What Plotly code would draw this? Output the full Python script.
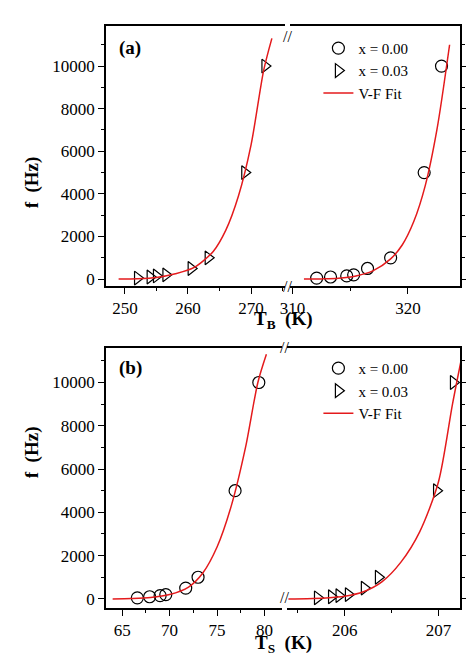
import plotly.graph_objects as go

f_vals = [50, 100, 150, 200, 500, 1000, 5000, 10000]
# Panel (a): T_B
a_T_x003 = [252.0, 254.0, 255.0, 256.5, 260.5, 263.2, 269.0, 272.2]
a_T_x000 = [312.1, 313.3, 314.7, 315.3, 316.5, 318.5, 321.4, 322.9]
a_fit_x003_T = [249, 252, 255, 258, 261, 264, 266, 268, 270, 272, 273.3]
a_fit_x003_f = [0, 20, 80, 250, 550, 1300, 2300, 3900, 6300, 9800, 11300]
a_fit_x000_T = [311, 312.5, 314, 315.5, 317, 318.5, 319.5, 320.5, 321.5, 322.5, 323.6]
a_fit_x000_f = [0, 10, 40, 150, 400, 950, 1600, 2700, 4400, 7000, 11000]
# Panel (b): T_S
b_T_x000 = [66.6, 67.9, 69.0, 69.6, 71.7, 73.0, 76.9, 79.4]
b_T_x003 = [205.71, 205.86, 205.94, 206.04, 206.21, 206.36, 206.98, 207.16]
b_fit_x000_T = [64, 66, 68, 70, 72, 73.5, 75, 76.5, 78, 79.3, 80.2]
b_fit_x000_f = [0, 15, 60, 200, 550, 1200, 2400, 4300, 7000, 10000, 11300]
b_fit_x003_T = [205.4, 205.6, 205.8, 206.0, 206.2, 206.4, 206.6, 206.8, 207.0, 207.15, 207.25]
b_fit_x003_f = [0, 10, 40, 120, 330, 800, 1700, 3100, 5400, 9000, 11200]

FONT = "Liberation Serif"
red = "#e41a1c"
fig = go.Figure()

def mk(x, y, sym, name, xa, ya, leg, show):
    fig.add_trace(go.Scatter(x=x, y=y, mode="markers", name=name, xaxis=xa, yaxis=ya,
        legend=leg, showlegend=show,
        marker=dict(symbol=sym, size=12, color="black", line=dict(width=1.2, color="black"))))

def fit(x, y, xa, ya, leg, show):
    fig.add_trace(go.Scatter(x=x, y=y, mode="lines", name="V-F Fit", xaxis=xa, yaxis=ya,
        legend=leg, showlegend=show, line=dict(color=red, width=1.5, shape="spline", smoothing=0.8)))

mk(a_T_x000, f_vals, "circle-open", "x = 0.00", "x2", "y", "legend", True)
mk(a_T_x003, f_vals, "triangle-right-open", "x = 0.03", "x", "y", "legend", True)
fit(a_fit_x003_T, a_fit_x003_f, "x", "y", "legend", True)
fit(a_fit_x000_T, a_fit_x000_f, "x2", "y", "legend", False)
mk(b_T_x000, f_vals, "circle-open", "x = 0.00", "x3", "y2", "legend2", True)
mk(b_T_x003, f_vals, "triangle-right-open", "x = 0.03", "x4", "y2", "legend2", True)
fit(b_fit_x000_T, b_fit_x000_f, "x3", "y2", "legend2", True)
fit(b_fit_x003_T, b_fit_x003_f, "x4", "y2", "legend2", False)

tf = dict(family=FONT, size=17, color="black")
def xax(dom, rng, dtick, minor, anchor, tickvals=None):
    d = dict(domain=dom, range=rng, anchor=anchor, showline=True, linecolor="black", linewidth=1.5,
             mirror=True, ticks="outside", ticklen=6, tickwidth=1.2, tickcolor="black",
             showgrid=False, zeroline=False, tickfont=tf,
             minor=dict(dtick=minor, ticks="outside", ticklen=3, tickcolor="black", showgrid=False))
    if tickvals: d.update(tickmode="array", tickvals=tickvals)
    else: d.update(dtick=dtick)
    return d

def yax(dom, rng, anchor):
    return dict(domain=dom, range=rng, anchor=anchor, showline=True, linecolor="black", linewidth=1.5,
                ticks="outside", ticklen=6, tickwidth=1.2, tickcolor="black", dtick=2000, tickformat="d",
                showgrid=False, zeroline=False, tickfont=tf,
                minor=dict(dtick=1000, ticks="outside", ticklen=3, tickcolor="black", showgrid=False))

def yr(dom, rng, anchor, over):
    return dict(domain=dom, range=rng, anchor=anchor, overlaying=over, side="right",
                showline=True, linecolor="black", linewidth=1.5, showticklabels=False,
                ticks="outside", ticklen=6, tickcolor="black", dtick=2000, showgrid=False, zeroline=False,
                minor=dict(dtick=1000, ticks="outside", ticklen=3, tickcolor="black", showgrid=False))

ya_dom = [0.553, 1.0]
yb_dom = [0.0, 0.447]
lf = dict(family=FONT, size=15, color="black")
fig.update_layout(
    width=474, height=661, margin=dict(l=98, r=22, t=18, b=61),
    plot_bgcolor="white", paper_bgcolor="white",
    xaxis=xax([0, 0.506], [247, 275.4], 10, 5, "y"),
    xaxis2=xax([0.52, 1], [309.8, 324.5], 10, 5, "y", [310, 320]),
    xaxis3=xax([0, 0.496], [63.3, 81.8], 5, 2.5, "y2", [65, 70, 75, 80]),
    xaxis4=xax([0.51, 1], [205.38, 207.23], 1, 0.5, "y2", [206, 207]),
    yaxis=yax(ya_dom, [-330, 11880], "x"),
    yaxis2=yax(yb_dom, [-420, 11600], "x3"),
    yaxis3=yr(ya_dom, [-330, 11880], "x2", "y"),
    yaxis4=yr(yb_dom, [-420, 11600], "x4", "y2"),
    legend=dict(x=0.6, y=0.99, xanchor="left", yanchor="top", bgcolor="rgba(0,0,0,0)",
                font=lf, tracegroupgap=0),
    legend2=dict(x=0.6, y=0.44, xanchor="left", yanchor="top", bgcolor="rgba(0,0,0,0)",
                 font=lf, tracegroupgap=0),
)
fig.add_trace(go.Scatter(x=[None], y=[None], xaxis="x2", yaxis="y3", showlegend=False))
fig.add_trace(go.Scatter(x=[None], y=[None], xaxis="x4", yaxis="y4", showlegend=False))

bf = dict(family=FONT, size=19, color="black")
sf = dict(family=FONT, size=16, color="black")
anns = [
    dict(text="<b>(a)</b>", x=0.03, y=0.985, xref="paper", yref="paper", xanchor="left", yanchor="top", showarrow=False, font=bf),
    dict(text="<b>(b)</b>", x=0.03, y=0.435, xref="paper", yref="paper", xanchor="left", yanchor="top", showarrow=False, font=bf),
    dict(text="<b>f  (Hz)</b>", x=-0.245, y=0.78, xref="paper", yref="paper", textangle=-90, showarrow=False, font=bf),
    dict(text="<b>f  (Hz)</b>", x=-0.245, y=0.22, xref="paper", yref="paper", textangle=-90, showarrow=False, font=bf),
    dict(text="<b>T<sub>B</sub>  (K)</b>", x=0.5, y=0.495, xref="paper", yref="paper", yanchor="middle", showarrow=False, font=bf),
    dict(text="<b>T<sub>S</sub>  (K)</b>", x=0.5, y=-0.062, xref="paper", yref="paper", yanchor="middle", showarrow=False, font=bf),
    dict(text="//", x=0.513, y=0.553, xref="paper", yref="paper", showarrow=False, font=sf),
    dict(text="//", x=0.503, y=0.0, xref="paper", yref="paper", showarrow=False, font=sf),
    dict(text="//", x=0.513, y=1.0, xref="paper", yref="paper", showarrow=False, font=sf),
    dict(text="//", x=0.503, y=0.447, xref="paper", yref="paper", showarrow=False, font=sf),
]
fig.update_layout(annotations=anns)
fig.write_html("out.html")
